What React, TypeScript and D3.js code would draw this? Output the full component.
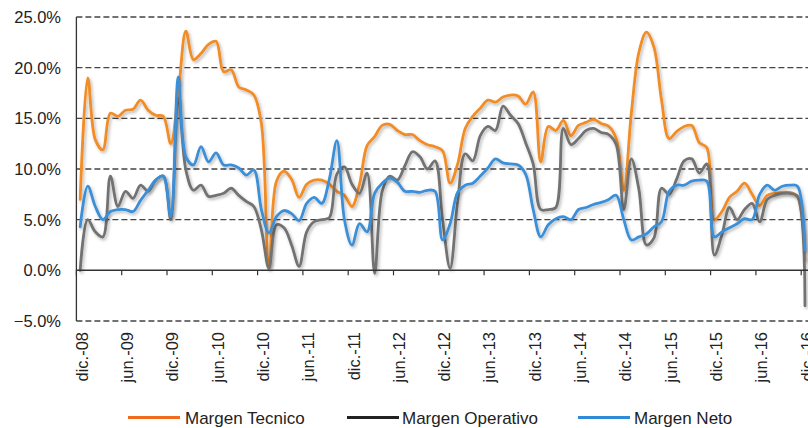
import React from "react";
import * as d3 from "d3";

const tickLabels = [
  "dic.-08", "jun.-09", "dic.-09", "jun.-10", "dic.-10", "jun.-11", "dic.-11", "jun.-12",
  "dic.-12", "jun.-13", "dic.-13", "jun.-14", "dic.-14", "jun.-15", "dic.-15", "jun.-16", "dic.-16",
];

const yTicks = [-5, 0, 5, 10, 15, 20, 25];

const seriesNames = ["Margen Tecnico", "Margen Operativo", "Margen Neto"];

const tecnico = [
  7.0, 19.0, 12.9, 11.9, 15.5, 15.2, 15.8, 15.9, 16.8, 15.8, 15.3, 15.2, 12.5, 17.5, 23.6, 20.8,
  21.4, 22.3, 22.6, 19.6, 19.8, 18.1, 17.8, 17.3, 14.5, 0.3, 8.8, 9.8, 9.0, 7.2, 8.5, 8.9,
  8.9, 8.5, 7.8, 7.4, 6.3, 8.5, 12.3, 13.2, 14.3, 14.4, 13.8, 13.4, 13.4, 12.8, 12.4, 12.2,
  11.8, 8.6, 10.5, 14.0, 15.2, 16.0, 16.8, 16.6, 17.1, 17.3, 17.2, 16.4, 17.6, 10.7, 14.2, 13.8,
  14.8, 13.3, 14.3, 14.6, 14.9, 14.5, 14.2, 13.0, 7.9, 15.5, 21.5, 23.5, 22.0, 16.8, 13.0, 13.7,
  14.2, 14.3, 12.6, 12.1, 5.0, 5.8, 7.2, 7.8, 8.6, 7.5, 6.4, 7.4, 7.6, 7.7, 7.7, 7.3, 1.0,
];

const operativo = [
  0.0, 5.0, 3.8, 3.3, 9.3, 6.3, 7.8, 7.1, 8.4, 7.8, 8.9, 9.3, 5.0, 17.0, 9.9, 7.9,
  8.4, 7.3, 7.4, 7.6, 8.1, 7.4, 6.8, 6.3, 4.0, 0.2, 4.5, 4.2, 2.5, 0.4, 3.8, 4.8,
  5.0, 5.2, 9.5, 10.2, 8.5, 7.6, 9.6, -0.3, 7.8, 9.3, 8.9, 10.3, 11.7, 11.2, 10.0, 10.8,
  5.0, 0.2, 6.8, 11.5, 10.8, 13.3, 14.2, 13.8, 16.2, 15.3, 14.5, 12.6, 10.5, 6.0, 6.0, 6.2,
  14.0, 12.4, 13.0, 13.8, 14.0, 13.6, 13.4, 12.4, 6.0, 11.0, 8.0, 2.5, 3.2, 8.1, 7.5, 9.0,
  10.8, 11.0, 9.6, 10.5, 1.5, 3.5, 6.2, 5.0, 6.0, 6.6, 4.8, 7.0, 7.4, 7.6, 7.6, 7.3, -3.5,
];

const neto = [
  4.3, 8.3, 6.3, 5.0, 5.8, 6.0, 6.0, 5.8, 6.9, 7.9, 8.9, 9.3, 5.3, 19.1, 11.2, 10.4,
  12.2, 10.7, 11.6, 10.4, 10.4, 10.1, 9.4, 9.9, 6.0, 3.7, 5.3, 5.9, 5.6, 4.9, 6.6, 7.2,
  6.6, 9.0, 12.8, 5.0, 2.5, 4.6, 3.8, 7.6, 8.6, 9.1, 8.7, 7.8, 7.8, 7.7, 7.9, 7.8,
  3.0, 4.6, 7.7, 8.4, 8.6, 9.3, 10.1, 11.0, 10.6, 10.5, 10.4, 9.5, 6.0, 3.3, 4.5, 5.1,
  5.3, 5.0, 6.0, 6.2, 6.5, 6.7, 7.0, 7.4, 5.0, 3.0, 3.3, 3.6, 4.3, 4.8, 7.8, 8.4,
  8.4, 8.8, 8.9, 8.8, 3.3, 3.8, 4.2, 4.6, 5.1, 5.0, 7.5, 8.4, 7.9, 8.3, 8.4, 8.3, 2.0,
];

const WIDTH = 808;
const HEIGHT = 428;
const FONT = "'Liberation Sans', Arial, sans-serif";

export default function App() {
  const n = tecnico.length;
  const x = d3.scaleLinear().domain([0, n]).range([76.4, 76.4 + 7.55 * n]);
  const y = d3.scaleLinear().domain([-5, 25]).range([321, 17]);
  const px = (i: number) => x(i + 0.5);

  const line = d3
    .line<number>()
    .x((_, i) => px(i))
    .y((d) => y(d))
    .curve(d3.curveCatmullRom.alpha(0.5));

  const series = [
    { name: seriesNames[0], data: tecnico, color: "#f28c25", legend: "#f06a1f" },
    { name: seriesNames[1], data: operativo, color: "#727272", legend: "#222222" },
    { name: seriesNames[2], data: neto, color: "#3a8fd8", legend: "#2f8ad8" },
  ];

  const legendPos = [
    { lx: 128, tx: 185 },
    { lx: 347, tx: 402 },
    { lx: 578, tx: 634 },
  ];

  const left = x(0);
  const right = WIDTH;

  return (
    <svg
      width={WIDTH}
      height={HEIGHT}
      style={{ position: "absolute", left: 0, top: 0, background: "#fff" }}
      fontFamily={FONT}
    >
      <defs>
        <filter id="shadow" x="-10%" y="-10%" width="120%" height="130%">
          <feDropShadow dx="1.5" dy="2" stdDeviation="1.6" floodColor="#000" floodOpacity="0.28" />
        </filter>
        <clipPath id="clip">
          <rect x={left} y={0} width={right - left} height={HEIGHT} />
        </clipPath>
      </defs>

      {/* gridlines */}
      {yTicks
        .filter((t) => t !== 0)
        .map((t) => (
          <line
            key={t}
            x1={left}
            x2={right}
            y1={y(t)}
            y2={y(t)}
            stroke="#444"
            strokeWidth={1.3}
            strokeDasharray="6,3"
          />
        ))}

      {/* y axis */}
      <line x1={left} x2={left} y1={y(25)} y2={y(-5)} stroke="#333" strokeWidth={1.3} />
      {yTicks.map((t) => (
        <text
          key={t}
          x={61}
          y={y(t)}
          dy="0.36em"
          textAnchor="end"
          fontSize={16.5}
          fill="#222"
        >
          {d3.format(".1f")(t) + "%"}
        </text>
      ))}

      {/* series */}
      <g clipPath="url(#clip)">
        {series.map((s) => (
          <path
            key={s.name}
            d={line(s.data) || ""}
            fill="none"
            stroke={s.color}
            strokeWidth={2.8}
            strokeLinejoin="round"
            strokeLinecap="round"
            filter="url(#shadow)"
          />
        ))}
      </g>

      {/* x axis at zero */}
      <line x1={left} x2={right} y1={y(0)} y2={y(0)} stroke="#333" strokeWidth={1.5} />
      {tickLabels.map((lab, k) => (
        <line
          key={"t" + lab}
          x1={x(k * 6)}
          x2={x(k * 6)}
          y1={y(0)}
          y2={y(0) + 5}
          stroke="#333"
          strokeWidth={1.2}
        />
      ))}
      {tickLabels.map((lab, k) => (
        <text
          key={lab}
          transform={`translate(${px(k * 6) + 1.8},332) rotate(-90)`}
          textAnchor="end"
          dy="0.35em"
          fontSize={16.5}
          fill="#222"
        >
          {lab}
        </text>
      ))}

      {/* legend */}
      {series.map((s, i) => (
        <g key={"lg" + s.name}>
          <line
            x1={legendPos[i].lx}
            x2={legendPos[i].lx + 52}
            y1={417.5}
            y2={417.5}
            stroke={s.legend}
            strokeWidth={3}
          />
          <text x={legendPos[i].tx} y={423.5} fontSize={17} fill="#222">
            {s.name}
          </text>
        </g>
      ))}
    </svg>
  );
}
